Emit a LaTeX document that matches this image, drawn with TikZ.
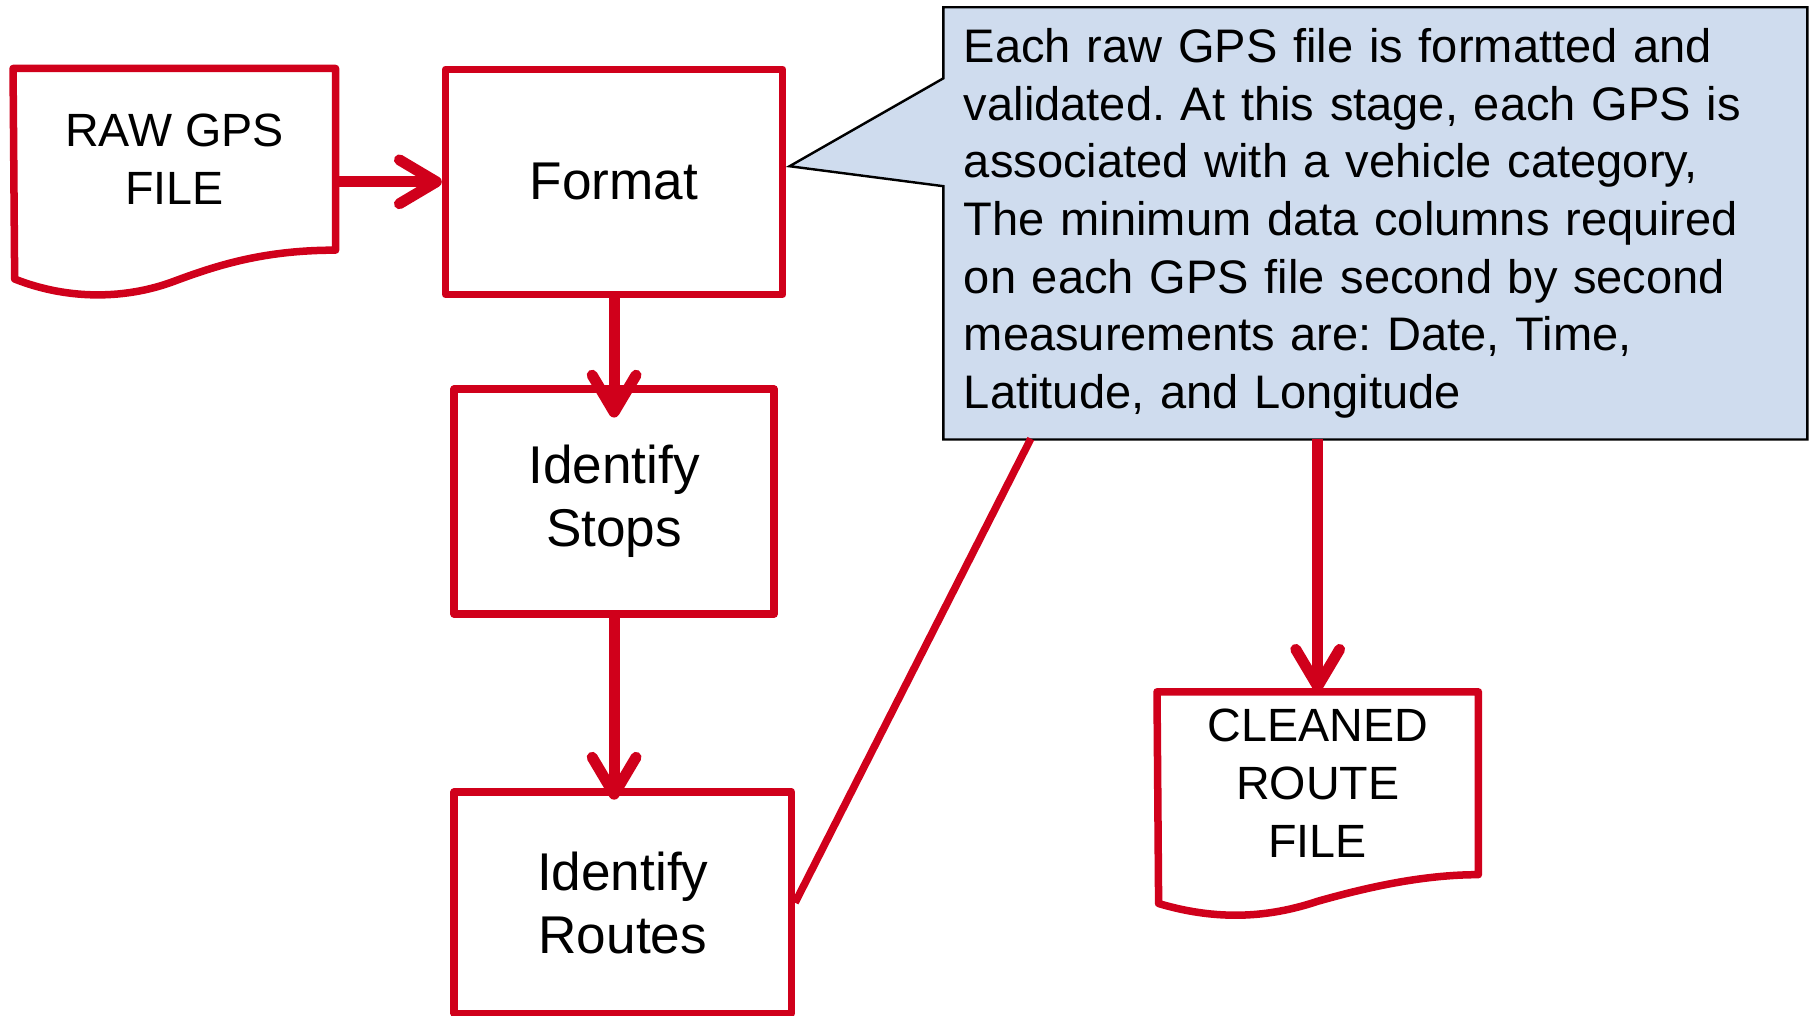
\documentclass[tikz,border=0pt]{standalone}
\usepackage{fontspec}
\setmainfont{Liberation Sans}
\usetikzlibrary{arrows.meta,positioning,backgrounds,calc}
\definecolor{flowred}{RGB}{208,0,27}
\definecolor{notefill}{RGB}{207,220,238}
\frenchspacing

\begin{document}
\begin{tikzpicture}[>={Straight Barb[length=3.2mm,width=3.8mm,round]},line join=round]

  \tikzstyle{process}=[rectangle,draw=flowred,line width=1.85pt,minimum width=2.92cm,
                       minimum height=1.95cm,align=center,font=\fontsize{13.1}{15.6}\selectfont]
  \tikzstyle{doc}=[rectangle,minimum width=2.78cm,minimum height=1.56cm,align=center,
                   font=\fontsize{11.5}{14.2}\selectfont]
  \tikzstyle{doc line}=[draw=flowred,line width=1.85pt]
  \tikzstyle{flow}=[->,draw=flowred,line width=2.7pt]
  \tikzstyle{link}=[draw=flowred,line width=1.85pt]
  \tikzstyle{note}=[rectangle,text width=7.13cm,inner xsep=0.17cm,minimum height=3.73cm,
                    align=left,font=\fontsize{11.6}{14.2}\selectfont]

  \useasboundingbox (0,0) rectangle (15.68,-8.80);

  \node [doc] (raw) at (1.51,-1.38) {RAW GPS\\FILE};
  \node [process] (format) at (5.32,-1.575) {Format};
  \node [process,minimum width=2.77cm] (stops) [below=0.755cm of format] {Identify\\Stops};
  \node [process,minimum height=1.92cm] (routes) [below=1.475cm of stops,xshift=0.075cm] {Identify\\Routes};
  \node [note] (note) at (11.915,-1.935) {Each raw GPS file is formatted and\\
    validated. At this stage, each GPS is\\
    associated with a vehicle category,\\
    The minimum data columns required\\
    on each GPS file second by second\\
    measurements are: Date, Time,\\
    Latitude, and Longitude};
  \node [doc,minimum width=2.77cm,minimum height=1.57cm] (clean) at (11.415,-6.785) {CLEANED\\ROUTE\\FILE};

  \coordinate (tip) at (6.84,-1.44);
  \coordinate (touch) at (8.93,-3.80);

  % document outlines
  \draw[doc line,shift={(raw.south east)}] (0,0) .. controls (-0.6,0) and (-1.0,-0.12) .. (-1.4,-0.27)
    .. controls (-1.8,-0.42) and (-2.3,-0.44) .. (-2.78,-0.25) -- (raw.north west) -- (raw.north east) -- cycle;
  \draw[doc line,shift={(clean.south east)}] (0,0) .. controls (-0.5,0) and (-1.0,-0.12) .. (-1.39,-0.23)
    .. controls (-1.75,-0.35) and (-2.2,-0.42) .. (-2.77,-0.25) -- (clean.north west) -- (clean.north east) -- cycle;

  % callout
  \begin{scope}[on background layer]
    \filldraw[fill=notefill,draw=black,line width=0.6pt] (note.north west) -- (note.north east)
      -- (note.south east) -- (note.south west) -- ($(note.north west)+(0,-1.55)$) -- (tip)
      -- ($(note.north west)+(0,-0.615)$) -- cycle;
  \end{scope}

  \draw[flow] (raw.east |- format.west) -- (format.west);
  \draw[flow] (format.south) -- ($(stops.north)+(0,-0.28)$);
  \draw[flow] (stops.south) -- ($(stops.south |- routes.north)+(0,-0.10)$);
  \draw[flow] (note.south -| clean.north) -- (clean.north);
  \draw[link] (routes.east) -- (touch);

\end{tikzpicture}
\end{document}
